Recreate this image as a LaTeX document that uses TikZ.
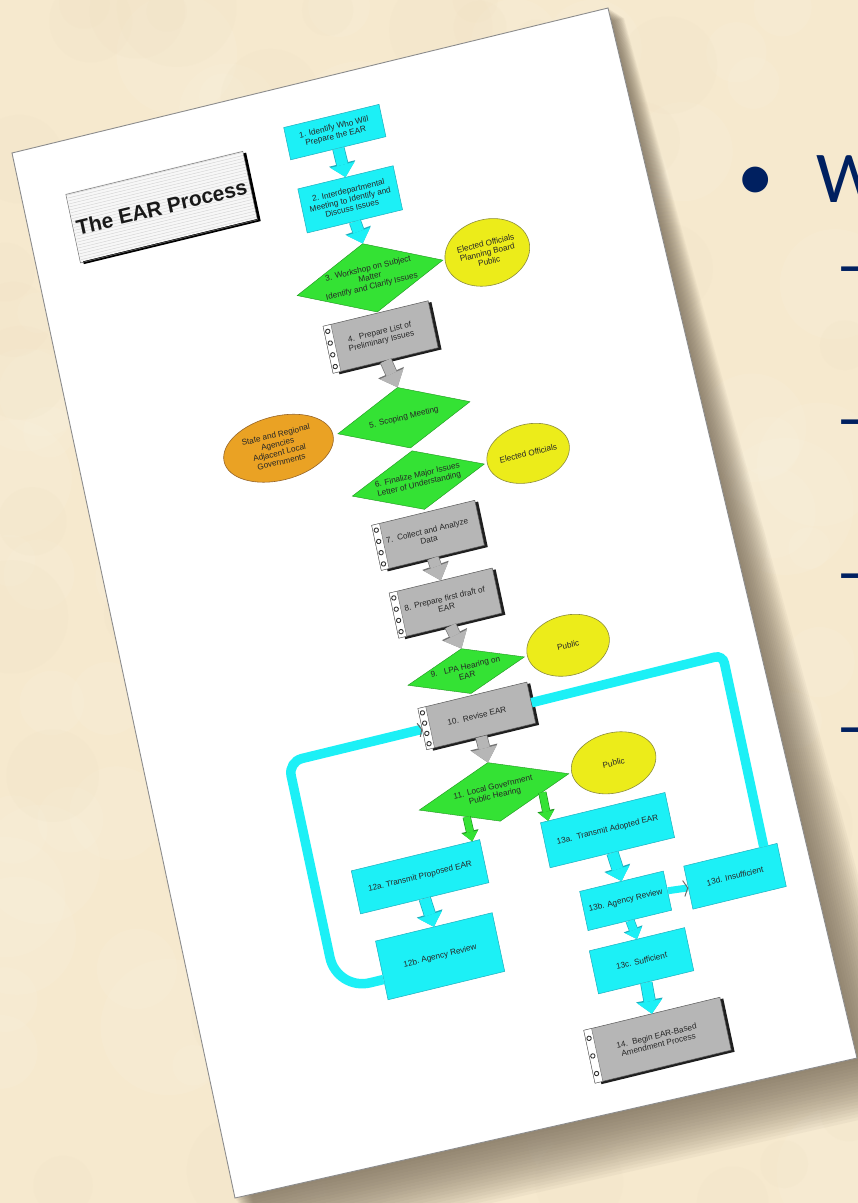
\documentclass[tikz,border=0pt]{standalone}
\usepackage{fontspec}
\setmainfont{Liberation Sans}
\newfontfamily\calfont{Carlito}
\usetikzlibrary{shapes.geometric,arrows.meta,calc}
\definecolor{parch}{RGB}{246,233,206}
\definecolor{parchL}{RGB}{251,243,226}
\definecolor{parchD}{RGB}{238,223,192}
\definecolor{shadowc}{RGB}{105,92,74}
\definecolor{cyanc}{RGB}{28,240,246}
\definecolor{cyand}{RGB}{30,175,190}
\definecolor{greenc}{RGB}{52,226,52}
\definecolor{greend}{RGB}{30,150,30}
\definecolor{yellowc}{RGB}{236,236,26}
\definecolor{yellowd}{RGB}{140,140,60}
\definecolor{orangec}{RGB}{234,162,36}
\definecolor{oranged}{RGB}{150,100,40}
\definecolor{grayc}{RGB}{182,182,182}
\definecolor{navy}{RGB}{0,32,96}
\tikzset{
 flow/.style={font={\fontsize{8.2}{9.2}\selectfont}, text=black!85, align=center, inner sep=0pt},
 cbox/.style={flow, rectangle, fill=cyanc, draw=cyand, line width=0.5pt},
 gbox/.style={flow, rectangle, fill=grayc, draw=black!65, line width=0.5pt},
 gdia/.style={flow, diamond, fill=greenc, draw=greend, line width=0.4pt, inner sep=-4pt},
 yell/.style={flow, ellipse, fill=yellowc, draw=yellowd, line width=0.6pt},
 oell/.style={flow, ellipse, fill=orangec, draw=oranged, line width=0.6pt},
 cyo/.style={draw=cyand, line width=12.4pt, -{Triangle[length=14pt,width=27pt,line width=0pt]}},
 cyi/.style={draw=cyanc, line width=11pt, -{Triangle[length=12.6pt,width=25pt,line width=0pt]}},
 cyso/.style={draw=cyand, line width=9.2pt, -{Triangle[length=11pt,width=20pt,line width=0pt]}},
 cysi/.style={draw=cyanc, line width=8pt, -{Triangle[length=9.8pt,width=18pt,line width=0pt]}},
 gyo/.style={draw=black!55, line width=12.4pt, -{Triangle[length=16pt,width=28pt,line width=0pt]}},
 gyi/.style={draw=grayc, line width=11pt, -{Triangle[length=14.6pt,width=26pt,line width=0pt]}},
 gro/.style={draw=greend, line width=8.2pt, -{Triangle[length=10.5pt,width=17.5pt,line width=0pt]}},
 gri/.style={draw=greenc, line width=7pt, -{Triangle[length=9.3pt,width=15.5pt,line width=0pt]}},
 loopc/.style={draw=cyanc, line width=9.5pt},
 looptip/.style={loopc, -{Straight Barb[length=3pt,width=14pt,line width=1pt,color=black!60]}},
 thinarr/.style={draw=cyanc, line width=7pt, -{Straight Barb[length=4pt,width=16pt,line width=0.9pt,color=black!60]}},
 navytext/.style={text=navy, inner sep=0pt, font={\calfont\fontsize{73}{80}\selectfont}},
}
\newcommand\padbox[7]{%
 \pgfmathsetmacro\pxL{#2-#4/2}\pgfmathsetmacro\pxR{#2+#4/2}%
 \pgfmathsetmacro\pyT{#3+#5/2}\pgfmathsetmacro\pyB{#3-#5/2}%
 \fill[black!88] (\pxL+6,\pyT-2) -- (\pxR+3,\pyT-2) -- (\pxR+3,\pyB-2.5) -- (\pxL+6,\pyB-2.5) -- cycle;
 \node[gbox, minimum width=#4pt, minimum height=#5pt] (#1) at (#2,#3) {#6};
 \fill[white, draw=black!60, line width=0.4pt] (\pxL,\pyT) -- (\pxL+8,\pyT) -- (\pxL+8,\pyB) -- (\pxL,\pyB) -- cycle;
 \foreach \k in {1,...,#7}{%
  \pgfmathsetmacro\ry{\pyT-(\k-0.5)*#5/#7}%
  \draw[black!80, line width=0.9pt] (\pxL+3.5,\ry) circle (2.2pt);
 }%
}
\newcommand\cyarrow[2]{\draw[cyo] (#1) -- (#2); \draw[cyi] (#1) -- (#2);}
\newcommand\gyarrow[2]{\draw[gyo] (#1) -- (#2); \draw[gyi] (#1) -- (#2);}
\newcommand\grarrow[2]{\draw[gro] (#1) -- (#2); \draw[gri] (#1) -- (#2);}
\begin{document}
\begin{tikzpicture}[x=1pt,y=1pt]
\useasboundingbox (0,0) rectangle (858,-1203);
\clip (0,0) rectangle (858,-1203);
% parchment background
\fill[parch] (0,0) rectangle (858,-1203);
\pgfmathsetseed{11}
\foreach \i in {1,...,110}{
 \pgfmathsetmacro\bx{858*rnd}\pgfmathsetmacro\by{-1203*rnd}\pgfmathsetmacro\br{20+50*rnd}
 \fill[parchL,opacity=0.16] (\bx,\by) circle (\br);
}
\foreach \i in {1,...,60}{
 \pgfmathsetmacro\bx{858*rnd}\pgfmathsetmacro\by{-1203*rnd}\pgfmathsetmacro\br{20+40*rnd}
 \fill[parchD,opacity=0.14] (\bx,\by) circle (\br);
}
% paper shadow
\foreach \k in {1,...,20}{
 \fill[shadowc,opacity=0.05] ({12+0.4*\k},{-153-0.6*\k}) -- ({608+0.8*\k},{-8-0.5*\k}) -- ({857+3.2*\k},{-1058-2.4*\k}) -- ({235+1.5*\k},{-1198-2.8*\k}) -- cycle;
}
% paper
\fill[white, draw=black!45, line width=0.9pt] (12,-153) -- (608,-8) -- (857,-1058) -- (235,-1198) -- cycle;
% flowchart on the paper
\begin{scope}[cm={0.9723,0.2365,-0.2087,0.978,(12,-153)}, transform shape]
 % title box
 \fill[black] (47,-55) -- (229,-55) -- (229,-125) -- (47,-125) -- cycle;
 \fill[black!3] (44,-52) -- (226,-52) -- (226,-122) -- (44,-122) -- cycle;
 \foreach \yy in {-120,-117,...,-54} \draw[black!18, line width=0.4pt] (45,\yy) -- (225,\yy);
 \node[draw=black!55, line width=0.5pt, minimum width=182pt, minimum height=70pt, inner sep=0pt,
   font={\fontsize{21}{22}\selectfont\bfseries}, text=black!90] (title) at (135,-88) {The EAR Process};
 % nodes
 \node[cbox, minimum width=98pt, minimum height=33pt] (b1) at (320,-56) {1. Identify Who Will\\Prepare the EAR};
 \node[cbox, minimum width=98pt, minimum height=45pt] (b2) at (321,-125) {2. Interdepartmental\\Meeting to Identify and\\Discuss Issues};
 \node[gdia, minimum width=150pt, minimum height=70pt, shape aspect=2.14] (d3) at (324,-206) {3. Workshop on Subject\\Matter\\Identify and Clarify Issues};
 \node[yell, minimum width=86pt, minimum height=66pt] (e3) at (444,-209) {Elected Officials\\Planning Board\\Public};
 \padbox{b4}{322}{-266}{108}{48}{4.\ \ Prepare List of\\Preliminary Issues}{4}
 \node[gdia, minimum width=136pt, minimum height=62pt, shape aspect=2.2] (d5) at (328,-350) {5. Scoping Meeting};
 \node[oell, minimum width=112pt, minimum height=64pt] (e5) at (199,-350) {State and Regional\\Agencies\\Adjacent Local\\Governments};
 \node[gdia, minimum width=136pt, minimum height=60pt, shape aspect=2.27] (d6) at (329,-414) {6. Finalize Major Issues\\Letter of Understanding};
 \node[yell, minimum width=84pt, minimum height=58pt] (e6) at (442,-414) {Elected Officials};
 \padbox{b7}{327}{-470}{106}{46}{7.\ \ Collect and Analyze\\Data}{4}
 \padbox{b8}{330}{-540}{106}{46}{8. Prepare first draft of\\EAR}{4}
 \node[gdia, minimum width=120pt, minimum height=46pt, shape aspect=2.6] (d9) at (336,-611) {9.\hspace{7pt}LPA Hearing on\\EAR};
 \node[yell, minimum width=84pt, minimum height=60pt] (e9) at (441,-610) {Public};
 \padbox{b10}{337}{-657}{112}{42}{10.\ \ Revise EAR}{4}
 \node[gdia, minimum width=154pt, minimum height=60pt, shape aspect=2.57] (d11) at (338,-735) {11. Local Government\\Public Hearing};
 \node[yell, minimum width=86pt, minimum height=60pt] (e11) at (461,-735) {Public};
 \node[cbox, minimum width=132pt, minimum height=44pt] (b12a) at (248,-800) {12a.\ Transmit Proposed EAR};
 \node[cbox, minimum width=120pt, minimum height=60pt] (b12b) at (251,-882) {12b.\ Agency Review};
 \node[cbox, minimum width=128pt, minimum height=46pt] (b13a) at (441,-799) {13a.\ \ Transmit Adopted EAR};
 \node[cbox, minimum width=86pt, minimum height=40pt] (b13b) at (444,-872) {13b. Agency Review};
 \node[cbox, minimum width=96pt, minimum height=44pt] (b13d) at (556,-874) {13d. Insufficient};
 \node[cbox, minimum width=98pt, minimum height=44pt] (b13c) at (447,-934) {13c. Sufficient};
 \padbox{b14}{446}{-1015}{140}{54}{14.\ \ Begin EAR-Based\\Amendment Process}{3}
 % connectors
 \cyarrow{b1.south}{b2.north}
 \cyarrow{b2.south}{d3.north}
 \gyarrow{b4.south}{d5.north}
 \gyarrow{b7.south}{b8.north}
 \gyarrow{b8.south}{d9.north}
 \gyarrow{b10.south}{d11.north}
 \grarrow{$(d11.south)!0.415!(d11.west)$}{$(b12a.north west)!0.94!(b12a.north east)$}
 \grarrow{$(d11.south)!0.61!(d11.east)$}{$(b13a.north west)!0.0625!(b13a.north east)$}
 \cyarrow{b12a.south}{b12b.north}
 \cyarrow{b13a.south}{b13b.north}
 \draw[cyso] (b13b.south) -- (b13c.north); \draw[cysi] (b13b.south) -- (b13c.north);
 \cyarrow{b13c.south}{b14.north}
 \draw[thinarr] (b13b.east) -- (b13d.west);
 % feedback loops
 \coordinate (lcA) at (143,-891);
 \coordinate (lcB) at (143,-657);
 \draw[looptip] ($(b12b.west)!0.3!(b12b.south west)$) [rounded corners=34pt] -- (lcA) [rounded corners=14pt] -- (lcB) -- (b10.west);
 \coordinate (rcA) at (590,-656);
 \draw[loopc, rounded corners=8pt] ($(b13d.north east)!0.146!(b13d.north west)$) -- (rcA) -- (b10.east);
\end{scope}
% slide text on the right
\node[navytext, anchor=base west] (wtxt) at (816,-202) {W};
\node[navytext, anchor=base] (bul) at (756,-200) {•};
\foreach \yy/\nm in {289/da,442/db,596/dc,750/dd}
 \node[navytext, anchor=base west] (\nm) at (836,-\yy) {–};
\end{tikzpicture}
\end{document}
